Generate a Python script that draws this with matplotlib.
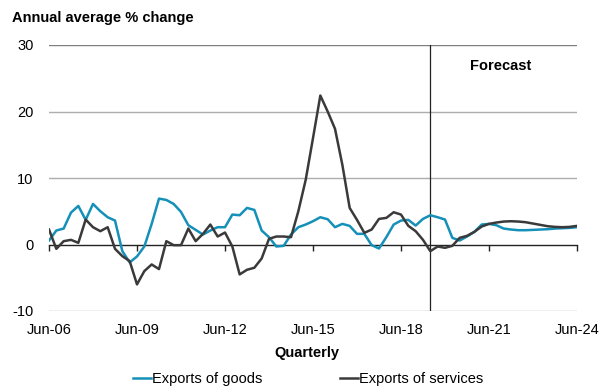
import matplotlib
matplotlib.use("Agg")
import matplotlib.pyplot as plt
import numpy as np

plt.rcParams['font.family'] = ['Liberation Sans', 'DejaVu Sans']
plt.rcParams['font.size'] = 10.5
plt.rcParams['axes.unicode_minus'] = False

# Quarterly series, Jun-06 to Jun-24
goods = [0.6, 2.1, 2.4, 4.8, 5.8, 3.7, 6.1, 5.0, 4.1, 3.6,
         -1.0, -2.7, -1.8, -0.3, 3.1, 6.9, 6.7, 6.1, 4.9, 2.9,
         2.2, 1.5, 2.1, 2.6, 2.6, 4.5, 4.4, 5.5, 5.2, 2.1,
         1.1, -0.3, -0.2, 1.5, 2.6, 3.0, 3.5, 4.1, 3.8, 2.6,
         3.1, 2.8, 1.6, 1.6, -0.1, -0.6, 1.1, 3.0, 3.6, 3.7,
         2.85, 3.85, 4.4, 4.1, 3.75, 1.0, 0.6, 1.2, 1.9, 3.0,
         3.1, 2.9, 2.4, 2.25, 2.15, 2.15, 2.2, 2.25, 2.3, 2.4,
         2.45, 2.5, 2.6]
services = [2.25, -0.65, 0.5, 0.7, 0.25, 3.75, 2.6, 2.0, 2.6, -0.65,
            -1.75, -2.5, -6.0, -4.0, -3.0, -3.7, 0.5, -0.1, -0.1, 2.4,
            0.5, 1.6, 3.0, 1.2, 1.8, -0.3, -4.5, -3.8, -3.5, -2.1,
            0.85, 1.2, 1.2, 1.1, 5.0, 9.7, 16.0, 22.4, 20.0, 17.4,
            12.0, 5.5, 3.7, 1.75, 2.25, 3.85, 4.0, 4.85, 4.5, 2.8,
            2.0, 0.7, -1.0, -0.3, -0.5, -0.2, 1.0, 1.3, 1.9, 2.7,
            3.1, 3.3, 3.45, 3.5, 3.45, 3.35, 3.15, 2.95, 2.75, 2.65,
            2.6, 2.65, 2.8]
tick_labels = ['Jun-06', 'Jun-09', 'Jun-12', 'Jun-15', 'Jun-18', 'Jun-21', 'Jun-24']
tick_step = 12          # quarters between labelled ticks
forecast_start = 52     # Jun-19
y_ticks = [-10, 0, 10, 20, 30]

blue = '#1590b8'
dark = '#3a3a3a'

x = np.arange(len(goods))
tick_pos = np.arange(len(tick_labels)) * tick_step

W, H = 601, 388
fig = plt.figure(figsize=(W / 100, H / 100), dpi=100)
ax = fig.add_axes([49 / W, (H - 311) / H, (577 - 49) / W, (311 - 45) / H])

ax.set_xlim(0, x[-1])
ax.set_ylim(-10, 30)

# horizontal gridlines
for v in y_ticks:
    if v == 0:
        continue
    ax.axhline(v, color='#7f7f7f' if v == 30 else '#adadad', lw=1.0, zorder=1)

ax.plot(x, goods, color=blue, lw=1.8, zorder=3, label='Exports of goods')
ax.plot(x, services, color=dark, lw=1.8, zorder=3, label='Exports of services')

# forecast divider
ax.axvline(forecast_start, color='#222222', lw=0.9, zorder=2)
ax.text(0.856, 0.921, 'Forecast', transform=ax.transAxes, ha='center',
        va='center', fontweight='bold', fontsize=10.5)

# zero axis with tick marks
for s in ['left', 'right', 'top']:
    ax.spines[s].set_visible(False)
ax.spines['bottom'].set_position(('data', 0))
ax.spines['bottom'].set_color('#222222')
ax.spines['bottom'].set_linewidth(1.0)
ax.set_xticks(tick_pos)
ax.tick_params(axis='x', direction='out', length=4, width=1.0, color='#222222',
               labelbottom=False)

ax.set_yticks(y_ticks)
ax.tick_params(axis='y', length=0, pad=11, labelsize=10.5)

sec = ax.secondary_xaxis(0)
sec.set_xticks(tick_pos)
sec.set_xticklabels(tick_labels)
sec.tick_params(length=0, pad=9, labelsize=10.5)
sec.spines['bottom'].set_visible(False)

fig.text(12 / W, 1 - 18 / H, 'Annual average % change', ha='left', va='center',
         fontweight='bold', fontsize=10.5)
fig.text(307 / W, 1 - 353 / H, 'Quarterly', ha='center', va='center',
         fontweight='bold', fontsize=10.5)

fig.legend(loc='center', bbox_to_anchor=(308 / W, 1 - 379 / H), ncol=2,
           frameon=False, handlelength=1.25, handletextpad=0.05,
           columnspacing=5.3, fontsize=10.5, borderpad=0)

fig.savefig('out.png', dpi=100)
